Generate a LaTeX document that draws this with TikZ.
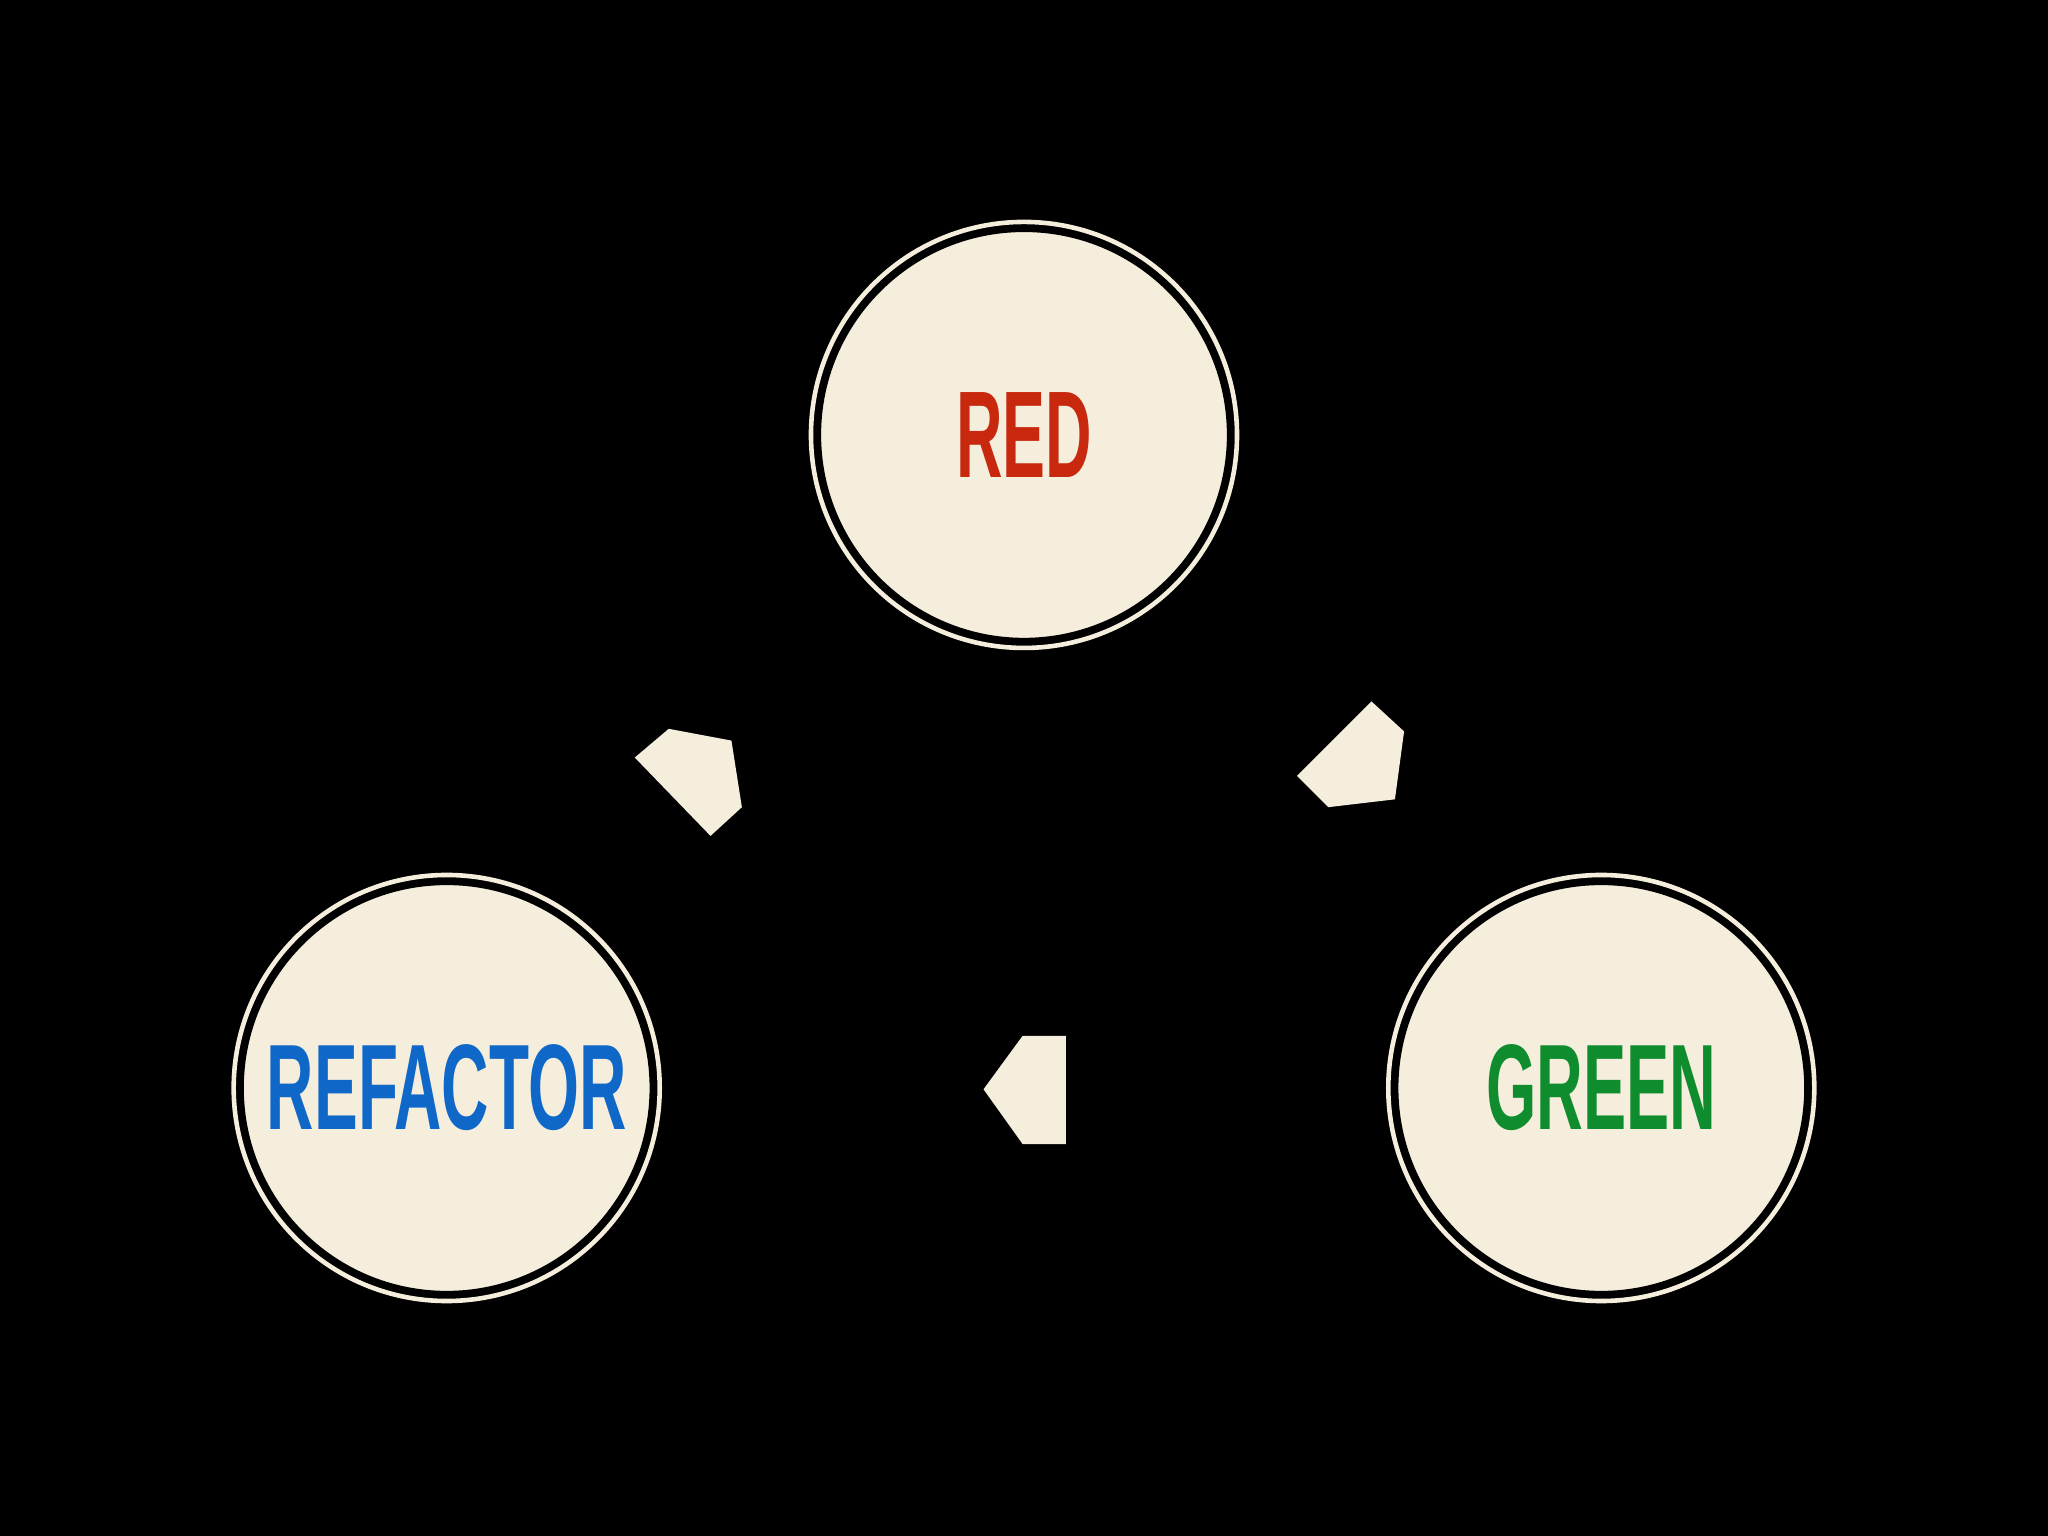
\documentclass[tikz,border=0pt]{standalone}
\usepackage{fontspec}
\setmainfont{Liberation Sans}
\usepackage{graphicx}
\definecolor{cream}{HTML}{F5EEDD}
\definecolor{cred}{HTML}{C8280E}
\definecolor{cblue}{HTML}{0F68C8}
\definecolor{cgreen}{HTML}{0E8C2E}
\tikzset{ring/.style={circle,minimum size=3.26cm,draw=cream,line width=1pt,fill=black,inner sep=0pt},
inner/.style={circle,minimum size=3.14cm,fill=cream,draw=black,line width=1pt,inner sep=0pt}}
\begin{document}
\begin{tikzpicture}[x=0.01cm,y=-0.01cm]
\fill[black] (0,0) rectangle (1568,1176);
\useasboundingbox (0,0) rectangle (1568,1176);
\foreach \n/\x/\y/\c/\t/\w in {red/784/333/cred/RED/1.04cm,refactor/342/833/cblue/REFACTOR/2.75cm,green/1226/833/cgreen/GREEN/1.76cm}{
 \node[ring] (\n o) at (\x,\y) {};
 \node[inner] (\n) at (\x,\y) {\textcolor{\c}{\resizebox{\w}{0.65cm}{\bfseries\t}}};
}
\fill[cream] (993,594) -- (1050,537) -- (1075,560) -- (1068,612) -- (1017,618) -- cycle;
\fill[cream] (486,580) -- (512,558) -- (560,567) -- (568,618) -- (544,640) -- cycle;
\fill[cream] (753,834) -- (783,793) -- (816,793) -- (816,876) -- (783,876) -- cycle;
\end{tikzpicture}
\end{document}
